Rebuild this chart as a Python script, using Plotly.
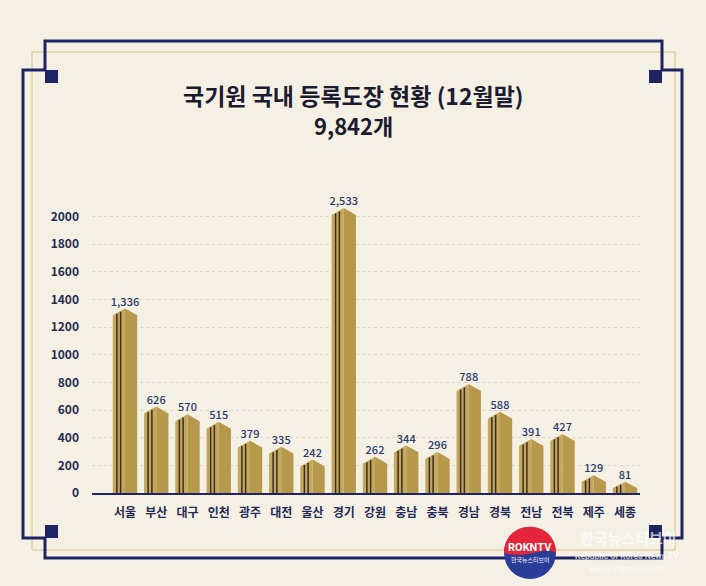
import plotly.graph_objects as go

# ---------------- data ----------------
regions = ['서울', '부산', '대구', '인천', '광주', '대전', '울산', '경기', '강원',
           '충남', '충북', '경남', '경북', '전남', '전북', '제주', '세종']
values = [1336, 626, 570, 515, 379, 335, 242, 2533, 262, 344, 296, 788, 588, 391, 427, 129, 81]
y_ticks = [0, 200, 400, 600, 800, 1000, 1200, 1400, 1600, 1800, 2000]
title_text = '국기원 국내 등록도장 현황 (12월말)'
total_text = '9,842개'

# ---------------- style ----------------
W, H = 706, 586
PL, PR, PT, PB = 92, 640, 189, 493        # plot area in pixels
X_RANGE = [-1.056, 16.48]
Y_RANGE = [0, 2200]
CAP = 2062                                 # visual cap for the over-tall bar (broken axis look)
HALF = 0.39
NAVY = '#1e2462'
GOLD_L = '#c4a75a'
GOLD_R = '#b6994b'
LINE_DARK = '#3a2c26'
BG = '#f5f0e4'


def px(x):
    return (x - PL) / (PR - PL)


def py(y):
    return (PB - y) / (PB - PT)


disp = [min(v, CAP) for v in values]
roof = [min(50, 0.55 * d) for d in disp]

left_x, left_y, right_x, right_y, lx, ly = [], [], [], [], [], []
for i, (d, r) in enumerate(zip(disp, roof)):
    s = d - r
    left_x += [i - HALF, i - HALF, i, i, i - HALF, None]
    left_y += [0, s, d, 0, 0, None]
    right_x += [i, i, i + HALF, i + HALF, i, None]
    right_y += [0, d, s, 0, 0, None]
    for off in (-0.26, -0.14):
        top = s + r * (1 - abs(off) / HALF) - 0.12 * r
        if top > 0:
            lx += [i + off, i + off, None]
            ly += [0, top, None]

fig = go.Figure()
fig.add_trace(go.Scatter(x=left_x, y=left_y, fill='toself', fillcolor=GOLD_L,
                         mode='lines', line=dict(width=0), hoverinfo='skip', showlegend=False))
fig.add_trace(go.Scatter(x=right_x, y=right_y, fill='toself', fillcolor=GOLD_R,
                         mode='lines', line=dict(width=0), hoverinfo='skip', showlegend=False))
fig.add_trace(go.Scatter(x=lx, y=ly, mode='lines', line=dict(color=LINE_DARK, width=1.5),
                         hoverinfo='skip', showlegend=False))
fig.add_trace(go.Scatter(x=list(range(len(regions))), y=disp, mode='text',
                         text=[f'{v:,}' for v in values], textposition='top center',
                         textfont=dict(family='Noto Sans CJK KR', size=11, color='#2a3a6e', weight=500),
                         hoverinfo='skip', showlegend=False, cliponaxis=False))

# ---------------- decorative frame ----------------
shapes = []
shapes.append(dict(type='rect', xref='paper', yref='paper', x0=px(32), x1=px(675), y0=py(52), y1=py(550),
                   line=dict(color='#d8bf86', width=1), layer='below'))
path_pts = [(45, 41), (662, 41), (662, 70), (682, 70), (682, 538), (662, 538), (662, 558),
            (45, 558), (45, 538), (23, 538), (23, 70), (45, 70)]
path = 'M ' + ' L '.join(f'{px(x):.5f},{py(y):.5f}' for x, y in path_pts) + ' Z'
shapes.append(dict(type='path', xref='paper', yref='paper', path=path,
                   line=dict(color=NAVY, width=3), layer='below'))
for (x0, y0) in [(45, 70), (649, 70), (45, 525), (649, 525)]:
    shapes.append(dict(type='rect', xref='paper', yref='paper', x0=px(x0), x1=px(x0 + 13),
                       y0=py(y0), y1=py(y0 + 13), fillcolor=NAVY, line=dict(width=0)))
# logo
shapes.append(dict(type='circle', xref='paper', yref='paper', x0=px(504), x1=px(556),
                   y0=py(527), y1=py(579), fillcolor='#2a3b98', line=dict(width=0)))
shapes.append(dict(type='path', xref='paper', yref='paper',
                   path=f'M {px(504):.5f},{py(553):.5f} '
                        f'C {px(504):.5f},{py(518):.5f} {px(556):.5f},{py(518):.5f} {px(556):.5f},{py(553):.5f} '
                        f'C {px(543):.5f},{py(545):.5f} {px(530):.5f},{py(560):.5f} {px(504):.5f},{py(553):.5f} Z',
                   fillcolor='#e3263a', line=dict(width=0)))


def ann(text, x, y, size, color, family='Noto Sans CJK KR', weight=400):
    return dict(text=text, xref='paper', yref='paper', x=px(x), y=py(y), showarrow=False,
                xanchor='center', yanchor='middle',
                font=dict(family=family, size=size, color=color, weight=weight))


annotations = [
    ann(title_text, 353, 95, 23, '#1b1b30', weight=700),
    ann(total_text, 353, 125, 22, '#1b1b30', weight=700),
    ann('ROKNTV', 530, 547, 11, 'white', family='Roboto', weight=700),
    ann('한국뉴스티브이', 530, 559, 6, 'white'),
    ann('한국뉴스티브이', 628, 537, 15, 'rgba(255,255,255,0.7)', weight=700),
    ann('Republic of Korea News TV', 627, 556, 8.5, 'rgba(255,255,255,0.7)', family='Roboto', weight=700),
    ann('www.rokntv.com', 626, 569, 10, 'rgba(255,255,255,0.7)', family='Roboto'),
]

fig.update_layout(
    width=W, height=H,
    margin=dict(l=PL, r=W - PR, t=PT, b=H - PB, pad=0),
    paper_bgcolor=BG, plot_bgcolor='rgba(0,0,0,0)',
    shapes=shapes, annotations=annotations, showlegend=False,
    xaxis=dict(range=X_RANGE, tickmode='array', tickvals=list(range(len(regions))), ticktext=regions,
               showgrid=False, zeroline=False, showline=True, linecolor=NAVY, linewidth=2,
               ticks='', ticklabelstandoff=8,
               tickfont=dict(family='Noto Sans CJK KR', size=12, color='#1f2a55', weight=700),
               fixedrange=True),
    yaxis=dict(range=Y_RANGE, tickmode='array', tickvals=y_ticks, ticktext=[str(t) for t in y_ticks],
               showgrid=True, gridcolor='#ddd6c8', griddash='dot', gridwidth=1,
               zeroline=False, showline=False, ticks='', ticklabelstandoff=12,
               tickfont=dict(family='Noto Sans CJK KR', size=12, color='#1f2a55', weight=700),
               fixedrange=True),
)

fig.write_html('out.html', post_script="document.body.style.margin='0';",
               config={'displayModeBar': False})
